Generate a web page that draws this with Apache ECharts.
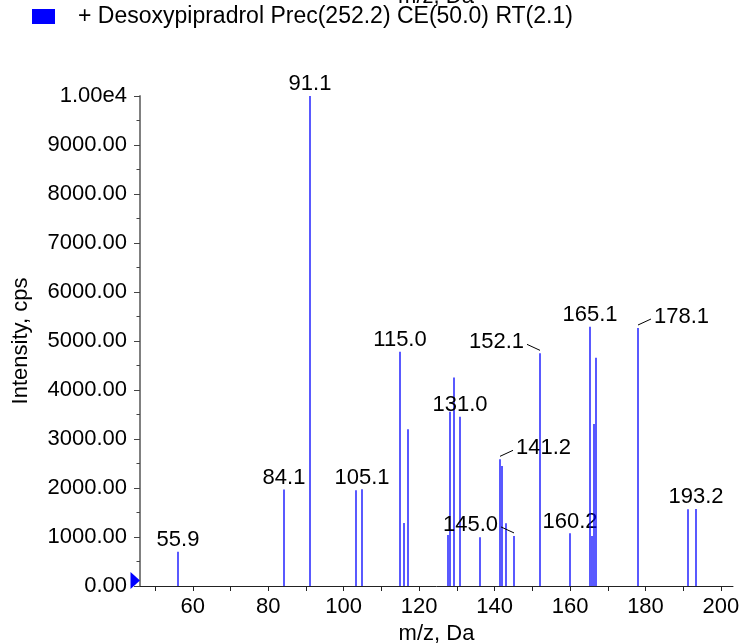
<!DOCTYPE html>
<html>
<head>
<meta charset="utf-8">
<script src="https://cdn.jsdelivr.net/npm/echarts@6/dist/echarts.min.js"></script>
<style>
html,body{margin:0;padding:0;background:#fff;}
#chart{width:742px;height:643px;}
</style>
</head>
<body>
<div id="chart"></div>
<script>
// ---- data ----
var seriesName = '+ Desoxypipradrol Prec(252.2) CE(50.0) RT(2.1)';
var mz = [55.9, 84.1, 91.1, 103.0, 105.1, 115.0, 116.0, 117.0, 127.8, 128.1, 129.1, 131.0,
          136.1, 141.2, 142.1, 143.1, 145.0, 152.1, 160.2, 165.1, 165.6, 166.1, 167.1,
          178.1, 191.1, 193.2];
var intensity = [700, 1970, 10000, 1955, 1975, 4780, 1288, 3200, 1040, 3555, 4256, 3454,
                 995, 2585, 2447, 1280, 1022, 4748, 1076, 5290, 1022, 3305, 4660,
                 5265, 1566, 1572];
var peakLabels = ['55.9', '84.1', '91.1', '', '105.1', '115.0', '', '', '', '', '', '131.0',
                  '', '141.2', '', '', '145.0', '152.1', '160.2', '165.1', '', '', '',
                  '178.1', '', '193.2'];
var xTickLabels = [60, 80, 100, 120, 140, 160, 180, 200];
var xTicks = [50, 60, 70, 80, 90, 100, 110, 120, 130, 140, 150, 160, 170, 180, 190, 200];
var xName = 'm/z, Da';
var yName = 'Intensity, cps';

// label placement (style, not data): leader-line labels
var leaderSide = {'141.2': 'right', '145.0': 'left', '152.1': 'left', '178.1': 'right'};

var FONT = '"Liberation Sans", Arial, sans-serif';
var FS = 22;
var BLUE = '#0000ff';

var data = mz.map(function (m, i) { return [m, intensity[i]]; });

var chart = echarts.init(document.getElementById('chart'), null, {renderer: 'canvas'});

function peakItem(params, api) {
  var x = api.value(0), y = api.value(1);
  var base = api.coord([x, 0]);
  var top = api.coord([x, y]);
  var px = 2 * Math.round(base[0] / 2);
  var children = [{
    type: 'line',
    shape: {x1: px, y1: base[1], x2: px, y2: top[1]},
    style: {stroke: BLUE, fill: null, lineWidth: 1.3}
  }];
  var lbl = peakLabels[params.dataIndex];
  if (lbl) {
    var side = leaderSide[lbl];
    if (side) {
      var dir = side === 'right' ? 1 : -1;
      children.push({
        type: 'line',
        shape: {x1: px, y1: top[1] - 3, x2: px + dir * 13, y2: top[1] - 9},
        style: {stroke: '#000', fill: null, lineWidth: 1}
      });
      children.push({
        type: 'text',
        style: {
          text: lbl, x: px + dir * 16, y: top[1] - 11,
          align: side === 'right' ? 'left' : 'right', verticalAlign: 'middle',
          font: FS + 'px ' + FONT, fill: '#000'
        }
      });
    } else {
      children.push({
        type: 'text',
        style: {
          text: lbl, x: px, y: top[1] - 11.7,
          align: 'center', verticalAlign: 'middle',
          font: FS + 'px ' + FONT, fill: '#000'
        }
      });
    }
  }
  return {type: 'group', children: children};
}

var option = {
  animation: false,
  backgroundColor: '#ffffff',
  textStyle: {fontFamily: FONT},
  legend: {
    show: true,
    left: 32,
    top: 5,
    padding: 0,
    icon: 'rect',
    itemWidth: 23,
    itemHeight: 15,
    selectedMode: false,
    textStyle: {fontFamily: FONT, fontSize: 23, color: '#000', padding: [0, 0, 0, 18]},
    data: [seriesName]
  },
  graphic: [{
    type: 'text',
    style: {text: xName, x: 436, y: -3, align: 'center', verticalAlign: 'middle',
            font: FS + 'px ' + FONT, fill: '#000'}
  }],
  grid: {left: 140, right: 9, top: 96, bottom: 57, containLabel: false, outerBoundsMode: 'none'},
  xAxis: {
    type: 'value',
    min: 46,
    max: 203.2,
    name: xName,
    nameLocation: 'middle',
    nameGap: 35,
    nameTextStyle: {fontFamily: FONT, fontSize: FS, color: '#000'},
    axisLine: {show: true, onZero: false, lineStyle: {color: '#222', width: 1}},
    axisTick: {show: true, length: 5, customValues: xTicks, lineStyle: {color: '#222'}},
    axisLabel: {show: true, customValues: xTickLabels, margin: 10, fontFamily: FONT, fontSize: FS, color: '#000'},
    splitLine: {show: false}
  },
  yAxis: {
    type: 'value',
    min: 0,
    max: 10000,
    interval: 1000,
    name: yName,
    nameLocation: 'middle',
    nameGap: 108,
    nameTextStyle: {fontFamily: FONT, fontSize: FS, color: '#000'},
    axisLine: {show: true, lineStyle: {color: '#808080', width: 2}},
    axisTick: {show: true, length: 6, lineStyle: {color: '#444'}},
    minorTick: {show: true, splitNumber: 2, length: 3.5, lineStyle: {color: '#444'}},
    axisLabel: {
      margin: 13, fontFamily: FONT, fontSize: FS, color: '#000',
      formatter: function (v) { return v === 10000 ? '1.00e4' : v.toFixed(2); }
    },
    splitLine: {show: false}
  },
  series: [{
    name: seriesName,
    type: 'custom',
    itemStyle: {color: BLUE},
    clip: false,
    data: data,
    renderItem: peakItem
  }, {
    name: 'zeroMarker',
    type: 'custom',
    clip: false,
    silent: true,
    z: 10,
    data: [[46, 0]],
    renderItem: function (params, api) {
      var p = api.coord([api.value(0), api.value(1)]);
      return {
        type: 'polygon',
        shape: {points: [[p[0] - 9.5, p[1] - 14], [p[0], p[1] - 5.5], [p[0] - 9.5, p[1] + 3]]},
        style: {fill: BLUE, stroke: null}
      };
    }
  }]
};

chart.setOption(option);
</script>
</body>
</html>
